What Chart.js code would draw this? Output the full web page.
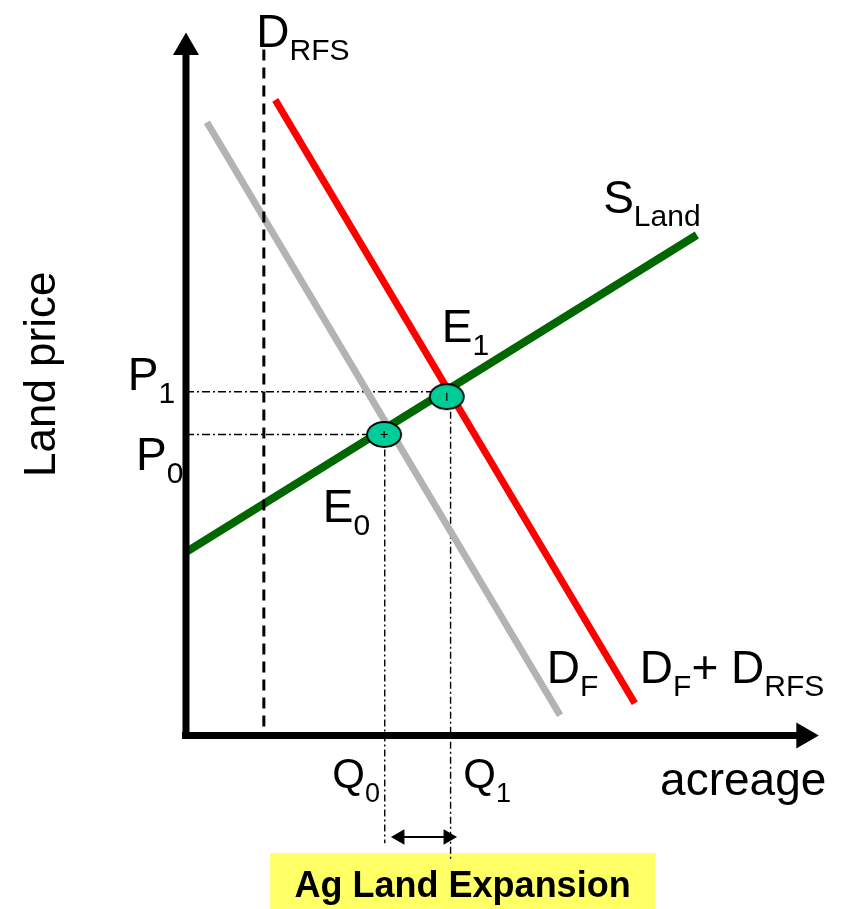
<!DOCTYPE html>
<html>
<head>
<meta charset="utf-8">
<script src="https://cdn.jsdelivr.net/npm/chart.js@4.4.0/dist/chart.umd.min.js"></script>
<style>
  html, body { margin: 0; padding: 0; background: #fff; }
  canvas { display: block; }
</style>
</head>
<body>
<canvas id="chart" width="848" height="909"></canvas>
<script>
// data units: x = acreage, y = land price (arbitrary units, origin at the axes corner)
const supplyLand = [{x: 0, y: 2.62}, {x: 8.07, y: 7.15}];
const demandFarm = [{x: 0.33, y: 8.76}, {x: 5.91, y: 0.29}];
const demandTotal = [{x: 1.41, y: 9.08}, {x: 7.09, y: 0.46}];
const demandRFS = [{x: 1.23, y: 9.8}, {x: 1.23, y: 0}];
const equilibria = [{x: 3.13, y: 4.30}, {x: 4.12, y: 4.84}]; // E0, E1
const priceLevels = [4.30, 4.91];     // P0, P1
const quantityLevels = [3.14, 4.18];  // Q0, Q1
const quantityFloor = [-1.54, -1.78]; // where the Q guides stop
const expansionArrow = [3.38, 4.14];  // double arrow between Q0 and Q1
const expansionY = -1.45;

const FONT = "'Liberation Sans', Arial, sans-serif";

// text annotations, anchored in data units
const annotations = [
  {x: 1.11, y: 9.84, parts: [['D', 0], ['RFS', 1]]},
  {x: 6.59, y: 7.46, parts: [['S', 0], ['Land', 1]]},
  {x: 4.04, y: 5.62, parts: [['E', 0], ['1', 1]]},
  {x: -0.92, y: 4.94, parts: [['P', 0], ['1', 1]]},
  {x: -0.79, y: 3.79, parts: [['P', 0], ['0', 1]]},
  {x: 2.16, y: 3.05, parts: [['E', 0], ['0', 1]]},
  {x: 5.70, y: 0.75, parts: [['D', 0], ['F', 1]]},
  {x: 7.17, y: 0.75, parts: [['D', 0], ['F', 1], ['+ D', 0], ['RFS', 1]]},
  {x: 2.31, y: -0.75, parts: [['Q', 0], ['0', 1]], big: 42, small: 27, drop: 14},
  {x: 4.38, y: -0.75, parts: [['Q', 0], ['1', 1]], big: 42, small: 27, drop: 14},
  {x: 7.49, y: -0.85, parts: [['acreage', 0]]}
];

function makeEllipse(rx, ry) {
  const c = document.createElement('canvas');
  c.width = Math.ceil(rx * 2 + 4);
  c.height = Math.ceil(ry * 2 + 4);
  const g = c.getContext('2d');
  g.beginPath();
  g.ellipse(c.width / 2, c.height / 2, rx, ry, 0, 0, Math.PI * 2);
  g.fillStyle = '#00cc99';
  g.fill();
  g.lineWidth = 1.8;
  g.strokeStyle = '#000';
  g.stroke();
  return c;
}
const ellipseImg = makeEllipse(17, 12.5);

function line(data, color, width, order, extra) {
  return Object.assign({
    data: data,
    showLine: true,
    borderColor: color,
    backgroundColor: color,
    borderWidth: width,
    pointRadius: 0,
    order: order
  }, extra || {});
}

const guides = [];
for (let i = 0; i < 2; i++) {
  guides.push(line([{x: 0, y: priceLevels[i]}, {x: equilibria[i].x, y: priceLevels[i]}],
    '#000', 1.4, 8, {borderDash: [8, 3, 2, 3]}));
  guides.push(line([{x: quantityLevels[i], y: equilibria[i].y}, {x: quantityLevels[i], y: quantityFloor[i]}],
    '#000', 1.4, 8, {borderDash: [7, 3, 2, 3]}));
}

const decorPlugin = {
  id: 'decor',
  beforeDatasetsDraw(chart) {
    const ctx = chart.ctx;
    const xs = chart.scales.x, ys = chart.scales.y;
    const l = xs.getPixelForValue(1.33), r = xs.getPixelForValue(7.42);
    const t = ys.getPixelForValue(-1.68), b = ys.getPixelForValue(-2.48);
    ctx.save();
    ctx.fillStyle = '#ffff66';
    ctx.fillRect(l, t, r - l, b - t);
    ctx.restore();
  },
  afterDatasetsDraw(chart) {
    const ctx = chart.ctx;
    const xs = chart.scales.x, ys = chart.scales.y;
    ctx.save();
    ctx.fillStyle = '#000';
    ctx.textBaseline = 'alphabetic';
    ctx.textAlign = 'left';
    annotations.forEach(a => {
      const big = a.big || 46, small = a.small || 30, drop = a.drop || 13;
      let cx = xs.getPixelForValue(a.x);
      const cy = ys.getPixelForValue(a.y);
      a.parts.forEach(([txt, sub]) => {
        ctx.font = (sub ? small : big) + 'px ' + FONT;
        ctx.fillText(txt, cx, cy + (sub ? drop : 0));
        cx += ctx.measureText(txt).width;
      });
    });
    // y axis title
    ctx.save();
    ctx.translate(xs.getPixelForValue(-2.07), ys.getPixelForValue(5.16));
    ctx.rotate(-Math.PI / 2);
    ctx.textAlign = 'center';
    ctx.font = '44px ' + FONT;
    ctx.fillText('Land price', 0, 0);
    ctx.restore();
    // box caption
    ctx.textAlign = 'center';
    ctx.font = 'bold 36px ' + FONT;
    ctx.fillText('Ag Land Expansion', xs.getPixelForValue(4.37), ys.getPixelForValue(-2.31));
    ctx.restore();
  }
};

new Chart(document.getElementById('chart'), {
  type: 'scatter',
  data: {
    datasets: [
      ...guides,
      line(demandFarm, '#b3b3b3', 7, 7),
      line(demandTotal, '#ff0000', 7, 6),
      line(supplyLand, '#006600', 8, 5),
      line(demandRFS, '#000', 3, 4, {borderDash: [11, 7]}),
      // axes with arrow heads
      line([{x: 0, y: -0.05}, {x: 0, y: 9.83}], '#000', 7, 3,
        {pointRadius: [0, 15], pointStyle: 'triangle', pointRotation: [0, 0], pointBorderWidth: 0}),
      line([{x: -0.063, y: 0}, {x: 9.76, y: 0}], '#000', 7, 3,
        {pointRadius: [0, 15], pointStyle: 'triangle', pointRotation: [0, 90], pointBorderWidth: 0}),
      // expansion double arrow
      line([{x: expansionArrow[0], y: expansionY}, {x: expansionArrow[1], y: expansionY}], '#000', 2, 3,
        {pointRadius: 9, pointStyle: 'triangle', pointRotation: [-90, 90], pointBorderWidth: 0}),
      // equilibrium markers
      {data: equilibria, pointStyle: ellipseImg, pointRadius: 12, showLine: false, order: 2},
      {data: [equilibria[0]], pointStyle: 'cross', pointRadius: 3.5, borderColor: '#000',
        pointBorderWidth: 1.2, showLine: false, order: 1},
      {data: [equilibria[1]], pointStyle: 'line', pointRotation: 90, pointRadius: 4, borderColor: '#000',
        pointBorderWidth: 1.2, showLine: false, order: 1}
    ]
  },
  options: {
    responsive: false,
    animation: false,
    events: [],
    layout: {padding: 0, autoPadding: false},
    plugins: {legend: {display: false}, tooltip: {enabled: false}},
    scales: {
      x: {type: 'linear', min: -2.938, max: 10.458, display: false},
      y: {type: 'linear', min: -2.479, max: 10.507, display: false}
    }
  },
  plugins: [decorPlugin]
});
</script>
</body>
</html>
